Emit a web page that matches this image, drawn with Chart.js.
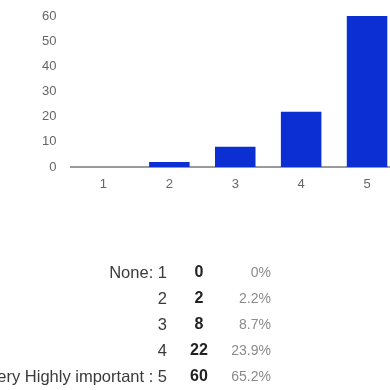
<!DOCTYPE html>
<html>
<head>
<meta charset="utf-8">
<script src="https://cdn.jsdelivr.net/npm/chart.js@4/dist/chart.umd.min.js"></script>
<style>
  html, body { margin: 0; padding: 0; background: #fff; overflow: hidden; width: 390px; height: 390px; }
  #wrap { position: absolute; left: 0; top: 0; width: 400px; height: 200px; }
  #summary { position: absolute; left: 0; top: 0; width: 390px; height: 390px;
             font-family: "Liberation Sans", Arial, sans-serif; }
  .cell { position: absolute; white-space: nowrap; line-height: 20px; height: 20px; }
  .lbl { right: 223px; text-align: right; color: #3a3a3a; font-size: 16.5px; }
  .cnt { left: 179px; width: 40px; text-align: center; font-weight: bold; color: #222; font-size: 16px; }
  .pct { right: 119px; text-align: right; color: #8a8a8a; font-size: 14px; }
</style>
</head>
<body>
<div id="wrap"><canvas id="c" width="400" height="200"></canvas></div>
<div id="summary"></div>
<script>
// Response scale and counts
const categories = ['1', '2', '3', '4', '5'];
const counts = [0, 2, 8, 22, 60];
const rowLabels = ['None: 1', '2', '3', '4', 'Very Highly important : 5'];
const percentLabels = ['0%', '2.2%', '8.7%', '23.9%', '65.2%'];
const yTicks = [0, 10, 20, 30, 40, 50, 60];

const tickFont = { family: '"Liberation Sans", Arial, sans-serif', size: 13 };

new Chart(document.getElementById('c'), {
  type: 'bar',
  data: {
    labels: categories,
    datasets: [{
      data: counts,
      backgroundColor: '#0b2fd2',
      borderWidth: 0,
      categoryPercentage: 1,
      barPercentage: 0.615
    }]
  },
  options: {
    responsive: false,
    animation: false,
    events: [],
    layout: { autoPadding: false, padding: { top: 16, right: 0, left: 0, bottom: 0 } },
    plugins: { legend: { display: false }, tooltip: { enabled: false } },
    scales: {
      x: {
        grid: { display: false, drawTicks: false },
        border: { display: true, color: '#9a9a9a', width: 2 },
        ticks: { color: '#666', font: tickFont, padding: 10 },
        afterFit: s => { s.height = 33; s.paddingTop = 0; s.paddingBottom = 0; }
      },
      y: {
        min: 0, max: 60,
        afterBuildTicks: s => { s.ticks = yTicks.map(v => ({ value: v })); },
        grid: { display: false, drawTicks: false },
        border: { display: false },
        ticks: { color: '#666', font: tickFont, padding: 14 },
        afterFit: s => { s.width = 70.5; s.paddingTop = 0; s.paddingBottom = 0; }
      }
    }
  }
});

// Summary rows under the chart: label, count, share
const summary = document.getElementById('summary');
const rowTop = 261.5, rowStep = 26.2;
rowLabels.forEach((lbl, i) => {
  const top = (rowTop + i * rowStep) + 'px';
  [['lbl', lbl], ['cnt', String(counts[i])], ['pct', percentLabels[i]]].forEach(([cls, txt]) => {
    const d = document.createElement('div');
    d.className = 'cell ' + cls;
    d.style.top = top;
    d.textContent = txt;
    summary.appendChild(d);
  });
});
</script>
</body>
</html>
